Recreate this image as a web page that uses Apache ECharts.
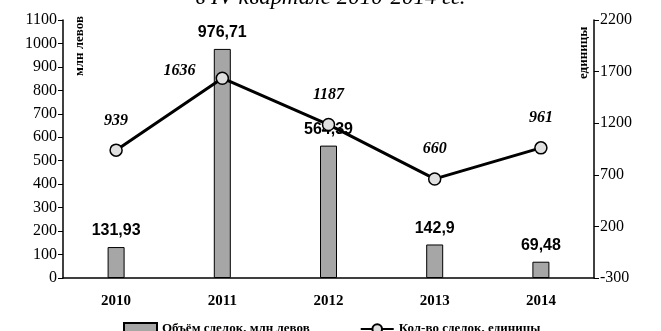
<!DOCTYPE html>
<html><head><meta charset="utf-8">
<script src="https://cdn.jsdelivr.net/npm/echarts@6/dist/echarts.min.js"></script>
<style>html,body{margin:0;padding:0;background:#fff}#c{width:661px;height:331px}</style>
</head><body><div id="c"></div>
<script>
const categories = ['2010','2011','2012','2013','2014'];
const volumeValues = [131.93, 976.71, 564.39, 142.9, 69.48];
const dealCounts = [939, 1636, 1187, 660, 961];
const leftTicks = {min: 0, max: 1100, interval: 100};
const rightTicks = {min: -300, max: 2200, interval: 500};
const titleText = 'в IV квартале 2010-2014 гг.';
const seriesNames = ['Объём сделок, млн левов', 'Кол-во сделок, единицы'];
const axisNames = ['млн левов', 'единицы'];

const serif = '"Liberation Serif", "DejaVu Serif", serif';
const sans = '"Liberation Sans", Arial, sans-serif';
const chart = echarts.init(document.getElementById('c'));
chart.setOption({
  animation: false,
  backgroundColor: '#fff',
  title: {text: titleText, left: 'center', top: -19,
    textStyle: {fontFamily: serif, fontStyle: 'italic', fontWeight: 'normal', fontSize: 23, color: '#000'}},
  grid: {left: 63, right: 67, top: 20, bottom: 53},
  legend: {top: 317, left: 118, itemGap: 50, itemWidth: 33, itemHeight: 12,
    textStyle: {fontFamily: serif, fontWeight: 'bold', fontSize: 13, color: '#000'},
    data: [{name: seriesNames[0], icon: 'rect'}, {name: seriesNames[1]}]},
  xAxis: {type: 'category', data: categories,
    axisLine: {lineStyle: {color: '#000', width: 1.5}}, axisTick: {show: false},
    axisLabel: {fontFamily: serif, fontWeight: 'bold', fontSize: 15, color: '#000', margin: 16}},
  yAxis: [
    {type: 'value', min: leftTicks.min, max: leftTicks.max, interval: leftTicks.interval,
      splitLine: {show: false},
      axisLine: {show: true, lineStyle: {color: '#000', width: 1.5}},
      axisTick: {show: true, length: 5, lineStyle: {color: '#000'}},
      axisLabel: {fontFamily: serif, fontSize: 16, color: '#000', margin: 6, formatter: v => String(v)}},
    {type: 'value', min: rightTicks.min, max: rightTicks.max, interval: rightTicks.interval,
      splitLine: {show: false},
      axisLine: {show: true, lineStyle: {color: '#000', width: 1.5}},
      axisTick: {show: true, length: 5, lineStyle: {color: '#000'}},
      axisLabel: {fontFamily: serif, fontSize: 16, color: '#000', margin: 6, formatter: v => String(v)}}
  ],
  graphic: [
    {type: 'text', left: 73, top: 16, rotation: Math.PI/2, originX: 0, originY: 0,
      style: {text: axisNames[0], font: 'bold 13px ' + serif, fill: '#000'}},
    {type: 'text', x: 577, y: 79, rotation: Math.PI/2,
      style: {text: axisNames[1], font: 'bold 13px ' + serif, fill: '#000'}}
  ],
  series: [
    {name: seriesNames[0], type: 'bar', yAxisIndex: 0, data: volumeValues, barWidth: 17,
      itemStyle: {color: '#a6a6a6', borderColor: '#000', borderWidth: 1},
      label: {show: true, position: 'top', distance: 8,
        fontFamily: sans, fontWeight: 'bold', fontSize: 16, color: '#000',
        formatter: p => String(p.value).replace('.', ',')}},
    {name: seriesNames[1], type: 'line', yAxisIndex: 1, z: 5,
      data: dealCounts.map((v, i) => i === 1
        ? {value: v, label: {position: 'left', distance: 20, offset: [0, -7]}}
        : {value: v}),
      symbol: 'circle', symbolSize: 12,
      lineStyle: {color: '#000', width: 3},
      itemStyle: {color: '#e0e0e0', borderColor: '#000', borderWidth: 1.5},
      label: {show: true, position: 'top', distance: 15,
        fontFamily: serif, fontStyle: 'italic', fontWeight: 'bold', fontSize: 16, color: '#000'}}
  ]
});
</script></body></html>
